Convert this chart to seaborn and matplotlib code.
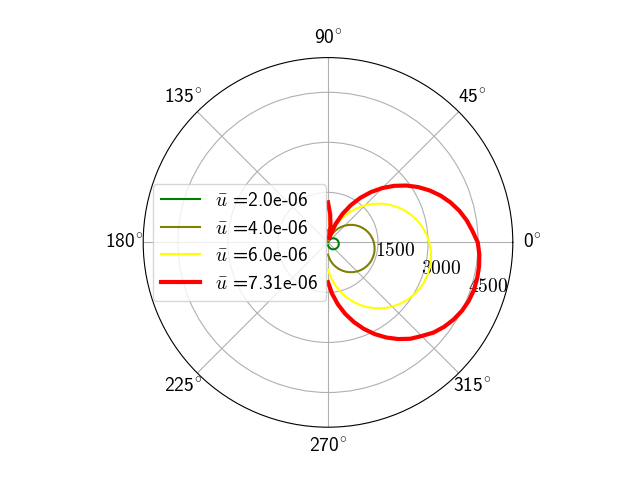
import numpy as np
import pandas as pd
import seaborn as sns
import matplotlib
matplotlib.use("Agg")
import matplotlib.pyplot as plt

# angle of each sample (degrees) and radius for each mean velocity
theta_deg = [90, 85.5, 81, 76.5, 72, 67.5, 63, 58.5, 54, 49.5, 45, 40.5, 36, 31.5,
             27, 22.5, 18, 13.5, 9, 4.5, 0, -4.5, -9, -13.5, -18, -22.5, -27,
             -31.5, -36, -40.5, -45, -49.5, -54, -58.5, -63, -67.5, -72, -76.5,
             -81, -85.5, -90]

r_u2 = [85, 60, 34, 9, 17, 43, 69, 94, 118, 142, 165, 187, 208, 227, 245, 262,
        277, 290, 301, 311, 319, 324, 328, 330, 330, 327, 323, 316, 308, 298,
        286, 272, 256, 239, 221, 201, 180, 157, 134, 110, 85]
r_u4 = [368, 259, 149, 37, 74, 186, 296, 404, 510, 612, 711, 805, 895, 979, 1057,
        1128, 1193, 1250, 1299, 1340, 1374, 1398, 1414, 1422, 1420, 1410, 1391,
        1363, 1328, 1284, 1231, 1172, 1105, 1032, 951, 866, 774, 679, 578, 475, 368]
r_u6 = [814, 573, 329, 82, 164, 410, 654, 893, 1127, 1354, 1572, 1781, 1979, 2164,
        2336, 2494, 2637, 2763, 2872, 2964, 3037, 3092, 3127, 3143, 3140, 3117,
        3075, 3014, 2935, 2838, 2723, 2591, 2443, 2281, 2104, 1914, 1712, 1500,
        1279, 1049, 814]
r_u731 = [1200, 840, 482, 121, 241, 602, 958, 1309, 1652, 1985, 2305, 2611, 2901,
          3174, 3426, 3658, 3866, 4051, 4211, 4345, 4490, 4550, 4585, 4600, 4600,
          4570, 4510, 4420, 4304, 4161, 3970, 3799, 3582, 3344, 3085, 2807, 2511,
          2200, 1875, 1539, 1193]

labels = [r"$\bar{u}$ =2.0e-06", r"$\bar{u}$ =4.0e-06",
          r"$\bar{u}$ =6.0e-06", r"$\bar{u}$ =7.31e-06"]
colors = ["green", "olive", "yellow", "red"]
widths = [1.5, 1.5, 1.5, 3]
rticks = [1500, 3000, 4500]
angle_ticks = [0, 45, 90, 135, 180, 225, 270, 315]

plt.rcParams["font.size"] = 14
plt.rcParams["font.family"] = ["cmss10", "DejaVu Sans"]
plt.rcParams["mathtext.fontset"] = "cm"
plt.rcParams["axes.formatter.use_mathtext"] = True

fig = plt.figure(figsize=(6.4, 4.8), dpi=100)
ax = fig.add_subplot(projection="polar")

theta = np.deg2rad(theta_deg)
for r, lab, col, lw in zip([r_u2, r_u4, r_u6, r_u731], labels, colors, widths):
    df = pd.DataFrame({"theta": theta, "r": r})
    sns.lineplot(data=df, x="theta", y="r", ax=ax, color=col, lw=lw,
                 label=lab, sort=False, estimator=None)

ax.set_ylim(0, 5540)
ax.set_yticks(rticks)
ax.set_yticklabels([f"${v}$" for v in rticks])
ax.set_xticks(np.deg2rad(angle_ticks))
ax.set_xticklabels([f"$\\mathregular{{{a}}}^{{\\!\\circ}}$" for a in angle_ticks])
ax.set_rlabel_position(-21)
ax.set_xlabel("")
ax.set_ylabel("")
ax.legend(loc="center left", fontsize=14)

fig.savefig("out.png", dpi=100)
